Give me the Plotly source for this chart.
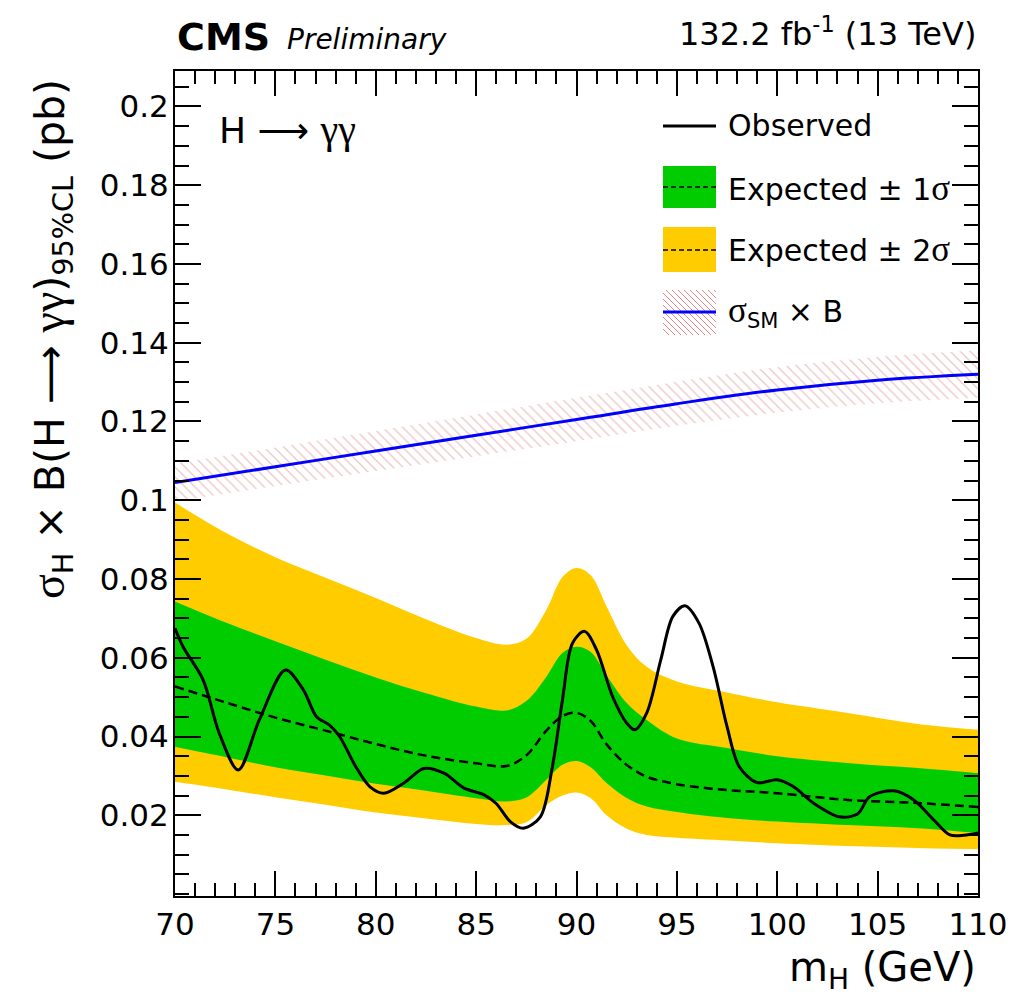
import plotly.graph_objects as go

# ---------------- data ----------------
mass_grid = [70, 72.5, 75, 77.5, 80, 82.5, 85, 86.5, 87.5, 88.5, 89.3, 90, 90.7,
             91.5, 92.5, 93.5, 95, 97.5, 100, 103.5, 107, 110]
exp_up2 = [0.0994, 0.0918, 0.0855, 0.0803, 0.0752, 0.0698, 0.0650, 0.0633, 0.0648, 0.0722,
           0.0805, 0.0828, 0.0810, 0.073, 0.0632, 0.0577, 0.054, 0.0512, 0.0487, 0.046,
           0.0432, 0.0417]
exp_up1 = [0.0743, 0.069, 0.0642, 0.0595, 0.0550, 0.0510, 0.0476, 0.0466, 0.049, 0.0552,
           0.0612, 0.0628, 0.0615, 0.0555, 0.0485, 0.0442, 0.0395, 0.0371, 0.035, 0.0333,
           0.032, 0.0307]
exp_med = [0.0527, 0.0487, 0.0448, 0.0415, 0.0381, 0.0351, 0.0332, 0.0325, 0.0352, 0.0415,
           0.0452, 0.046, 0.0440, 0.038, 0.0328, 0.0298, 0.0279, 0.0264, 0.0256, 0.0239,
           0.0231, 0.0221]
exp_lo1 = [0.0374, 0.0348, 0.0322, 0.0301, 0.028, 0.0262, 0.0243, 0.0235, 0.0245, 0.029,
           0.0328, 0.0338, 0.0322, 0.0282, 0.0244, 0.0222, 0.0208, 0.0193, 0.0184, 0.0175,
           0.0167, 0.0155]
exp_lo2 = [0.0285, 0.0266, 0.0246, 0.0227, 0.0207, 0.0192, 0.0178, 0.0175, 0.0182, 0.0226,
           0.0250, 0.0258, 0.0244, 0.020, 0.0166, 0.015, 0.0143, 0.0136, 0.0129, 0.0122,
           0.0117, 0.0114]

obs_mass = [70, 70.4, 71.4, 72.2, 73.15, 74.2, 75.5, 76.4, 77.05, 77.7, 78.2, 79.0, 79.7,
            80.4, 81.4, 82.4, 83.4, 84.4, 85.4, 86.0, 86.7, 87.35, 88.2, 88.8, 89.3, 89.8,
            90.4, 91.0, 91.8, 92.5, 92.9, 93.5, 94.2, 94.8, 95.4, 96.1, 96.8, 97.5, 98.1,
            99.0, 100.0, 100.8, 101.8, 103.1, 104.0, 104.6, 105.8, 106.8, 107.8, 108.6,
            109.3, 110]
obs_limit = [0.0675, 0.0628, 0.0544, 0.0409, 0.0315, 0.0442, 0.0569, 0.0518, 0.045, 0.0429,
             0.040, 0.0324, 0.0273, 0.0256, 0.0282, 0.0319, 0.0307, 0.0269, 0.0252, 0.023,
             0.0184, 0.0167, 0.0196, 0.0324, 0.0493, 0.0637, 0.0667, 0.062, 0.0501, 0.0434,
             0.0417, 0.046, 0.0595, 0.0705, 0.0732, 0.0688, 0.0578, 0.0425, 0.0324, 0.0283,
             0.029, 0.0273, 0.0231, 0.0196, 0.0203, 0.0247, 0.0262, 0.0239, 0.0188, 0.015,
             0.0149, 0.0155]

sm_mass = [70, 75, 80, 85, 90, 95, 100, 105, 110]
sm_xsec = [0.1045, 0.1085, 0.1125, 0.1165, 0.1205, 0.1245, 0.128, 0.1305, 0.132]
sm_up = [0.1093, 0.1134, 0.1176, 0.1218, 0.1260, 0.1301, 0.1338, 0.1364, 0.1380]
sm_lo = [0.0997, 0.1036, 0.1074, 0.1112, 0.1150, 0.1189, 0.1222, 0.1246, 0.1260]

x_ticks = [70, 75, 80, 85, 90, 95, 100, 105, 110]
y_ticks = [0.02, 0.04, 0.06, 0.08, 0.1, 0.12, 0.14, 0.16, 0.18, 0.2]
y_ticktext = ["0.02", "0.04", "0.06", "0.08", "0.1", "0.12", "0.14", "0.16", "0.18", "0.2"]

# ---------------- style ----------------
FONT = "DejaVu Sans"
GREEN = "#00cc00"
YELLOW = "#ffcc00"
BLUE = "#0000ff"
HATCH = "#de8a8a"


def g(txt, size):
    return '<span style="font-family:Liberation Serif;font-size:%dpx">%s</span>' % (size, txt)


# page offset of the plot div (body margin)
OFF = 8
W, H = 1030 - OFF, 999 - OFF
# plot frame on the page: x 175..978, y 71..896
FX0, FX1, FY0, FY1 = 175, 978, 71, 896
ML, MR, MT, MB = FX0 - OFF, W - (FX1 - OFF), FY0 - OFF, H - (FY1 - OFF)
PW, PH = FX1 - FX0, FY1 - FY0


def px(xp):
    return (xp - FX0) / PW


def py(yp):
    return (FY1 - yp) / PH


fig = go.Figure()

# 2 sigma band
fig.add_trace(go.Scatter(x=mass_grid, y=exp_lo2, mode="lines", line=dict(width=0, shape="spline"),
                         showlegend=False, hoverinfo="skip"))
fig.add_trace(go.Scatter(x=mass_grid, y=exp_up2, mode="lines", line=dict(width=0, shape="spline"),
                         fill="tonexty", fillcolor=YELLOW, showlegend=False, hoverinfo="skip"))
# 1 sigma band
fig.add_trace(go.Scatter(x=mass_grid, y=exp_lo1, mode="lines", line=dict(width=0, shape="spline"),
                         showlegend=False, hoverinfo="skip"))
fig.add_trace(go.Scatter(x=mass_grid, y=exp_up1, mode="lines", line=dict(width=0, shape="spline"),
                         fill="tonexty", fillcolor=GREEN, showlegend=False, hoverinfo="skip"))
# SM hatched band
fig.add_trace(go.Scatter(x=sm_mass, y=sm_lo, mode="lines", line=dict(width=0, shape="spline"),
                         showlegend=False, hoverinfo="skip"))
fig.add_trace(go.Scatter(x=sm_mass, y=sm_up, mode="lines", line=dict(width=0, shape="spline"),
                         fill="tonexty", fillcolor="rgba(255,255,255,0)",
                         fillpattern=dict(shape="\\", fgcolor=HATCH, bgcolor="rgba(255,255,255,0)",
                                          size=7, solidity=0.18),
                         showlegend=False, hoverinfo="skip"))
# SM line
fig.add_trace(go.Scatter(x=sm_mass, y=sm_xsec, mode="lines",
                         line=dict(color=BLUE, width=3, shape="spline"), showlegend=False))
# expected median
fig.add_trace(go.Scatter(x=mass_grid, y=exp_med, mode="lines",
                         line=dict(color="black", width=2.5, dash="9px,5px", shape="spline"),
                         showlegend=False))
# observed
fig.add_trace(go.Scatter(x=obs_mass, y=obs_limit, mode="lines",
                         line=dict(color="black", width=3, shape="spline", smoothing=0.9),
                         showlegend=False))

# ---------------- manual legend ----------------
shapes = []
bx0, bx1 = 663, 716
shapes.append(dict(type="line", xref="paper", yref="paper", x0=px(bx0), x1=px(bx1),
                   y0=py(126), y1=py(126), line=dict(color="black", width=3)))
shapes.append(dict(type="rect", xref="paper", yref="paper", x0=px(bx0), x1=px(bx1),
                   y0=py(208), y1=py(166), fillcolor=GREEN, line=dict(width=0)))
shapes.append(dict(type="line", xref="paper", yref="paper", x0=px(bx0), x1=px(bx1),
                   y0=py(187), y1=py(187), line=dict(color="black", width=1.5, dash="5px,3px")))
shapes.append(dict(type="rect", xref="paper", yref="paper", x0=px(bx0), x1=px(bx1),
                   y0=py(272), y1=py(227), fillcolor=YELLOW, line=dict(width=0)))
shapes.append(dict(type="line", xref="paper", yref="paper", x0=px(bx0), x1=px(bx1),
                   y0=py(250), y1=py(250), line=dict(color="black", width=1.5, dash="5px,3px")))
hy0, hy1 = 290, 335
hw, hh = bx1 - bx0, hy1 - hy0
c = -hh
while c < hw:
    ya, yb = hy0, hy1
    xa, xb = bx0 + c, bx0 + c + hh
    if xa < bx0:
        ya = hy0 + (bx0 - xa)
        xa = bx0
    if xb > bx1:
        yb = hy1 - (xb - bx1)
        xb = bx1
    shapes.append(dict(type="line", xref="paper", yref="paper", x0=px(xa), x1=px(xb),
                       y0=py(ya), y1=py(yb), line=dict(color=HATCH, width=1)))
    c += 6
shapes.append(dict(type="line", xref="paper", yref="paper", x0=px(bx0), x1=px(bx1),
                   y0=py(312), y1=py(312), line=dict(color=BLUE, width=3)))

annotations = []
leg_font = dict(family=FONT, size=30, color="black")
for text, yc in [("Observed", 126), ("Expected ± 1" + g("σ", 35), 188),
                 ("Expected ± 2" + g("σ", 35), 250), (g("σ", 35) + "<sub>SM</sub> × B", 312)]:
    annotations.append(dict(text=text, xref="paper", yref="paper", x=px(726), y=py(yc),
                            xanchor="left", yanchor="middle", showarrow=False, font=leg_font))

annotations += [
    dict(text="<b>CMS</b>", xref="paper", yref="paper", x=0, y=py(37), xanchor="left",
         yanchor="middle", showarrow=False, font=dict(family=FONT, size=38, color="black")),
    dict(text="<i>Preliminary</i>", xref="paper", yref="paper", x=px(285), y=py(40),
         xanchor="left", yanchor="middle", showarrow=False,
         font=dict(family=FONT, size=28, color="black")),
    dict(text="132.2 fb<sup>-1</sup> (13 TeV)", xref="paper", yref="paper", x=1, y=py(32),
         xanchor="right", yanchor="middle", showarrow=False,
         font=dict(family=FONT, size=32, color="black")),
    dict(text="H ⟶ " + g("γγ", 40), xref="paper", yref="paper", x=px(217), y=py(129),
         xanchor="left", yanchor="middle", showarrow=False,
         font=dict(family=FONT, size=36, color="black")),
    dict(text="m<sub>H</sub> (GeV)", xref="paper", yref="paper", x=1, y=py(970),
         xanchor="right", yanchor="middle", showarrow=False,
         font=dict(family=FONT, size=40, color="black")),
    dict(text=g("σ", 46) + "<sub>H</sub> × B(H ⟶ " + g("γγ", 46) + ")<sub>95%CL</sub> (pb)",
         xref="paper", yref="paper",
         x=px(51), y=py(339), xanchor="center", yanchor="middle", textangle=-90,
         showarrow=False, font=dict(family=FONT, size=41, color="black")),
]

axis_common = dict(showgrid=False, zeroline=False, showline=True, linecolor="black",
                   linewidth=2, mirror="allticks", ticks="inside", tickcolor="black",
                   tickwidth=1.5)

fig.update_layout(
    width=W, height=H,
    margin=dict(l=ML, r=MR, t=MT, b=MB),
    paper_bgcolor="white", plot_bgcolor="white",
    font=dict(family=FONT, size=30, color="black"),
    showlegend=False,
    shapes=shapes,
    annotations=annotations,
    xaxis=dict(range=[70, 110], tickmode="array", tickvals=x_ticks, ticklen=25,
               ticklabelstandoff=0,
               minor=dict(ticks="inside", ticklen=13, tick0=70, dtick=1, tickwidth=1.5,
                          tickcolor="black"),
               tickfont=dict(family=FONT, size=31), **axis_common),
    yaxis=dict(range=[-0.0005, 0.209], tickmode="array", tickvals=y_ticks,
               ticktext=y_ticktext, ticklen=26, ticklabelstandoff=-2,
               minor=dict(ticks="inside", ticklen=14, tick0=0, dtick=0.005, tickwidth=1.5,
                          tickcolor="black"),
               tickfont=dict(family=FONT, size=31), **axis_common),
)

fig.write_html("out.html")
